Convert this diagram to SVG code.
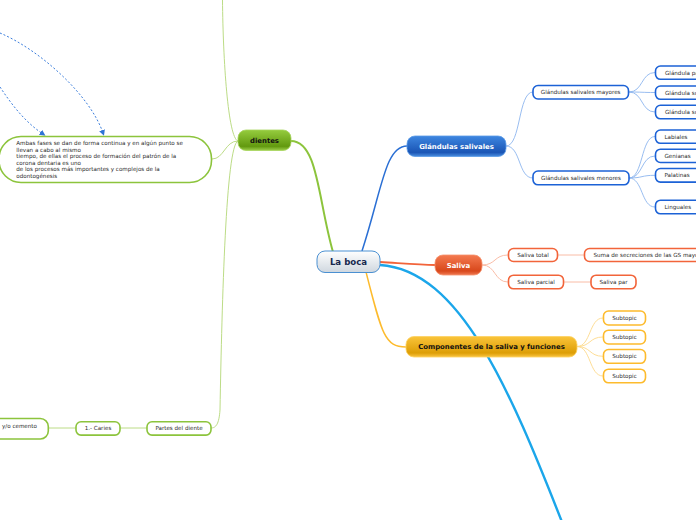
<svg xmlns="http://www.w3.org/2000/svg" width="696" height="520" viewBox="0 0 696 520">
<defs>
<linearGradient id="gBoca" x1="0" y1="0" x2="0" y2="1"><stop offset="0" stop-color="#ffffff"/><stop offset="1" stop-color="#cfd7df"/></linearGradient>
<linearGradient id="gBlue" x1="0" y1="0" x2="0" y2="1"><stop offset="0" stop-color="#3d86e0"/><stop offset="0.8" stop-color="#1a55b5"/><stop offset="1" stop-color="#4a8ee0"/></linearGradient>
<linearGradient id="gGreen" x1="0" y1="0" x2="0" y2="1"><stop offset="0" stop-color="#95cc3e"/><stop offset="0.8" stop-color="#62990f"/><stop offset="1" stop-color="#9ccf4a"/></linearGradient>
<linearGradient id="gRed" x1="0" y1="0" x2="0" y2="1"><stop offset="0" stop-color="#f47a50"/><stop offset="0.8" stop-color="#d8481c"/><stop offset="1" stop-color="#f07a52"/></linearGradient>
<linearGradient id="gYel" x1="0" y1="0" x2="0" y2="1"><stop offset="0" stop-color="#fac43a"/><stop offset="0.8" stop-color="#dd9e06"/><stop offset="1" stop-color="#fac440"/></linearGradient>
<marker id="arr" markerWidth="6" markerHeight="6" refX="3" refY="3" orient="auto" markerUnits="userSpaceOnUse"><path d="M0,0 L6,3 L0,6 Z" fill="#2f74d6"/></marker>
</defs>
<style>
text{font-family:"DejaVu Sans","Liberation Sans",sans-serif;}
.main{font-weight:bold;font-size:6.9px;text-anchor:middle;}
.sub{font-size:5.6px;fill:#2a2a2a;}
.subm{font-size:5.6px;fill:#2a2a2a;text-anchor:middle;}
.bx{fill:#fff;stroke-width:1.6;}
.b{stroke:#1c62d6;}
.r{stroke:#f2643a;}
.y{stroke:#fdbb2d;}
.g{stroke:#8cc43c;}
.c{fill:none;}
</style>
<g id="connectors">
<path class="c" d="M380,265 C460,270 510,390 562,522" stroke="#1ba6ea" stroke-width="2.4"/>
<path class="c" d="M333,252 C318,200 318,141 291,141" stroke="#8cc43c" stroke-width="2"/>
<path class="c" d="M362,251 C382,190 385,146 407,146" stroke="#2a6fd4" stroke-width="1.5"/>
<path class="c" d="M380,262 C410,264 420,265 435,265" stroke="#f2643a" stroke-width="1.8"/>
<path class="c" d="M366,272 C382,335 385,347 406,347" stroke="#fdbb2d" stroke-width="1.5"/>
<g stroke="#8db6ee" stroke-width="0.9" fill="none">
<path d="M506,146 C521,146 518,92 533,92"/>
<path d="M506,146 C521,146 518,178 533,178"/>
<path d="M629,92 C643,92 641,72.5 655,72.5"/>
<path d="M629,92 C643,92 641,92.5 655,92.5"/>
<path d="M629,92 C643,92 641,112 655,112"/>
<path d="M629,178 C643,178 641,136.5 655,136.5"/>
<path d="M629,178 C643,178 641,156 655,156"/>
<path d="M629,178 C643,178 641,175.3 655,175.3"/>
<path d="M629,178 C643,178 641,207 655,207"/>
</g>
<g stroke="#f8b49c" stroke-width="0.9" fill="none">
<path d="M482,265 C496,265 494,255 508,255"/>
<path d="M482,265 C496,265 494,282 508,282"/>
<path d="M557,255 L584,255"/>
<path d="M563,282 L591,282"/>
</g>
<g stroke="#fdd98a" stroke-width="0.9" fill="none">
<path d="M577,346.5 C591,346.5 589,318 603,318"/>
<path d="M577,346.5 C591,346.5 589,337 603,337"/>
<path d="M577,346.5 C591,346.5 589,356.3 603,356.3"/>
<path d="M577,346.5 C591,346.5 589,376 603,376"/>
</g>
<g stroke="#bcdc86" stroke-width="1" fill="none">
<path d="M238,141 C225,141 224,159 212,159"/>
<path d="M238,141 C228,138 223,60 222.5,0"/>
<path d="M238,141 C226,145 222,300 220,410 C219,424 216,428 211,428"/>
<path d="M147,428 L120,428"/>
<path d="M76,428 L48,428"/>
</g>
<g stroke="#3a7ddc" stroke-width="1" fill="none" stroke-dasharray="2,2">
<path d="M0,33 C40,50 90,95 103,133" marker-end="url(#arr)"/>
<path d="M0,87 C12,105 25,122 43,134" marker-end="url(#arr)"/>
</g>
</g>
<g id="node-boca">
<rect x="317" y="251" width="63" height="21.5" rx="8" fill="url(#gBoca)" stroke="#4a90d2" stroke-width="1"/>
<text x="348.5" y="265" text-anchor="middle" font-weight="bold" font-size="8.6" fill="#17284e">La boca</text>
</g>
<g id="node-glandulas">
<rect x="407" y="136" width="99" height="20.5" rx="8" fill="url(#gBlue)" stroke="#5a9ae6" stroke-width="0.8"/>
<text class="main" x="456.5" y="148.7" fill="#fff">Glándulas salivales</text>
</g>
<g id="node-dientes">
<rect x="238" y="130" width="53" height="20.5" rx="8" fill="url(#gGreen)" stroke="#a6d45c" stroke-width="0.8"/>
<text class="main" x="264.5" y="142.8" fill="#111">dientes</text>
</g>
<g id="node-saliva">
<rect x="435" y="255" width="47" height="20" rx="8" fill="url(#gRed)" stroke="#f5906c" stroke-width="0.8"/>
<text class="main" x="458.5" y="267.6" fill="#fff">Saliva</text>
</g>
<g id="node-componentes">
<rect x="406" y="336.5" width="171" height="20.5" rx="8" fill="url(#gYel)" stroke="#fdd060" stroke-width="0.8"/>
<text class="main" x="491.5" y="349.2" fill="#111">Componentes de la saliva y funciones</text>
</g>
<g id="node-mayores"><rect class="bx b" x="533" y="85.5" width="95.5" height="13.5" rx="5"/><text class="subm" x="580.7" y="94.3">Glándulas salivales mayores</text></g>
<g id="node-menores"><rect class="bx b" x="533" y="171" width="96" height="13.8" rx="5"/><text class="subm" x="581" y="179.9">Glándulas salivales menores</text></g>
<g id="node-g1"><rect class="bx b" x="655.5" y="66" width="60" height="13.3" rx="5"/><text class="sub" x="665" y="74.6">Glándula pa</text></g>
<g id="node-g2"><rect class="bx b" x="655.5" y="86" width="60" height="13.3" rx="5"/><text class="sub" x="665" y="94.6">Glándula su</text></g>
<g id="node-g3"><rect class="bx b" x="655.5" y="105.3" width="60" height="13.5" rx="5"/><text class="sub" x="665" y="114">Glándula su</text></g>
<g id="node-labiales"><rect class="bx b" x="655.5" y="130" width="60" height="13.3" rx="5"/><text class="sub" x="664.5" y="138.6">Labiales</text></g>
<g id="node-genianas"><rect class="bx b" x="655.5" y="149.2" width="60" height="13.3" rx="5"/><text class="sub" x="664.5" y="157.8">Genianas</text></g>
<g id="node-palatinas"><rect class="bx b" x="655.5" y="168.5" width="60" height="13.6" rx="5"/><text class="sub" x="664.5" y="177.3">Palatinas</text></g>
<g id="node-linguales"><rect class="bx b" x="655.5" y="200.2" width="60" height="13.6" rx="5"/><text class="sub" x="664.5" y="209">Linguales</text></g>
<g id="node-stotal"><rect class="bx r" x="508.5" y="248.5" width="49" height="13" rx="5"/><text class="subm" x="533" y="256.9">Saliva total</text></g>
<g id="node-suma"><rect class="bx r" x="584.5" y="248.5" width="130" height="13" rx="5"/><text class="sub" x="593.5" y="256.9">Suma de secreciones de las GS mayo</text></g>
<g id="node-sparcial"><rect class="bx r" x="508.5" y="275.2" width="55" height="13.6" rx="5"/><text class="subm" x="536" y="283.9">Saliva parcial</text></g>
<g id="node-spar"><rect class="bx r" x="591" y="275.2" width="45" height="13.6" rx="5"/><text class="subm" x="613.5" y="283.9">Saliva par</text></g>
<g id="node-st1"><rect class="bx y" x="603.5" y="311" width="42" height="14" rx="5"/><text class="subm" x="624.5" y="319.9">Subtopic</text></g>
<g id="node-st2"><rect class="bx y" x="603.5" y="330.2" width="42" height="13.8" rx="5"/><text class="subm" x="624.5" y="339.1">Subtopic</text></g>
<g id="node-st3"><rect class="bx y" x="603.5" y="349.5" width="42" height="13.8" rx="5"/><text class="subm" x="624.5" y="358.4">Subtopic</text></g>
<g id="node-st4"><rect class="bx y" x="603.5" y="369.2" width="42" height="13.6" rx="5"/><text class="subm" x="624.5" y="378">Subtopic</text></g>
<g id="node-ambas">
<rect class="bx g" x="-1" y="136.5" width="212.5" height="46" rx="22"/>
<text class="sub" x="16.3" y="145.3">Ambas fases se dan de forma continua y en algún punto se</text>
<text class="sub" x="16.3" y="151.8">llevan a cabo al mismo</text>
<text class="sub" x="16.3" y="158.3">tiempo, de ellas el proceso de formación del patrón de la</text>
<text class="sub" x="16.3" y="164.8">corona dentaria es uno</text>
<text class="sub" x="16.3" y="171.3">de los procesos más importantes y complejos de la</text>
<text class="sub" x="16.3" y="177.8">odontogénesis</text>
</g>
<g id="node-partes"><rect class="bx g" x="147" y="421.8" width="64" height="13.3" rx="5"/><text class="subm" x="179" y="430.4">Partes del diente</text></g>
<g id="node-caries"><rect class="bx g" x="76" y="421.8" width="44" height="13.3" rx="5"/><text class="subm" x="98" y="430.4">1.- Caries</text></g>
<g id="node-cemento"><rect class="bx g" x="-30" y="418.5" width="78.3" height="20.5" rx="8"/><text class="sub" x="2" y="427.9">y/o cemento</text></g>
</svg>
